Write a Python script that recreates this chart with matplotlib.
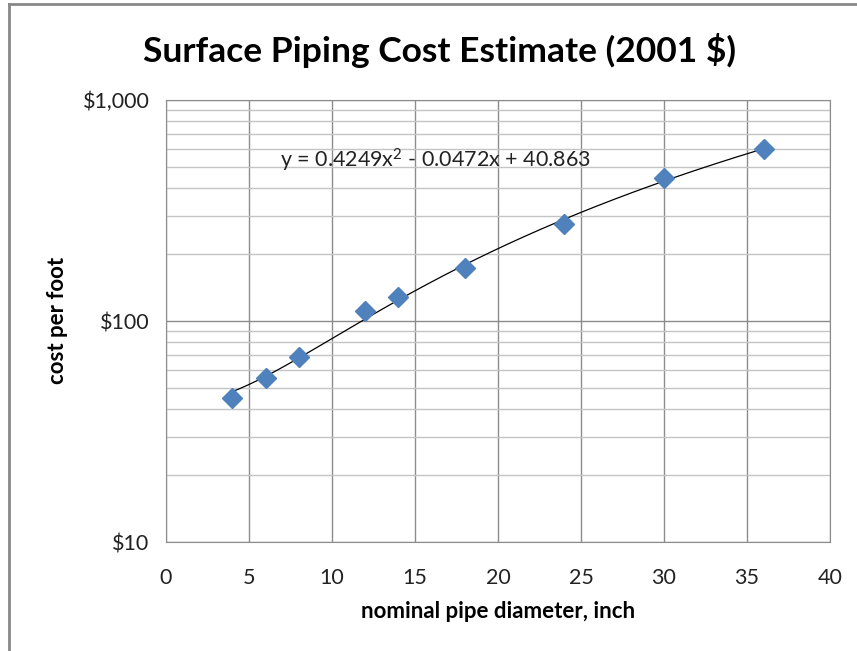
import matplotlib.pyplot as plt
import matplotlib.ticker as mticker
import numpy as np

# data
diameter = [4, 6, 8, 12, 14, 18, 24, 30, 36]
cost = [44.7, 55.1, 68.6, 111, 128.5, 174, 276, 442, 599]
equation = 'y = 0.4249x$^2$ - 0.0472x + 40.863'

plt.rcParams['font.family'] = ['Lato', 'DejaVu Sans']
plt.rcParams['mathtext.default'] = 'regular'

fig = plt.figure(figsize=(8.57, 6.51), dpi=100)
ax = fig.add_axes([0.1937, 0.1674, 0.7748, 0.679])

# quadratic trendline fitted to the points
coef = np.polyfit(diameter, cost, 2)
xs = np.linspace(min(diameter), max(diameter), 200)
ax.plot(xs, np.polyval(coef, xs), color='black', linewidth=0.9, zorder=3)

ax.plot(diameter, cost, linestyle='none', marker='D', markersize=10,
        color='#4F81BD', markeredgecolor='#4F81BD', zorder=4)

ax.set_yscale('log')
ax.set_ylim(10, 1000)
ax.set_xlim(0, 40)
ax.set_xticks(range(0, 41, 5))
ax.yaxis.set_major_formatter(mticker.FuncFormatter(lambda v, p: '${:,.0f}'.format(v)))
ax.yaxis.set_minor_formatter(mticker.NullFormatter())
ax.yaxis.set_minor_locator(mticker.LogLocator(base=10, subs=range(2, 10)))

ax.grid(True, which='major', color='#8c8c8c', linewidth=1)
ax.grid(True, which='minor', axis='y', color='#c4c4c4', linewidth=1)
ax.set_axisbelow(True)
for s in ax.spines.values():
    s.set_color('#8c8c8c')
ax.tick_params(which='both', length=0, labelsize=15.5, colors='#222222')
ax.tick_params(axis='x', pad=19)
ax.tick_params(axis='y', pad=12)

ax.text(0.172, 0.864, equation, transform=ax.transAxes, fontsize=15.5,
        va='center', ha='left', color='#222222')

fig.text(0.513, 1 - 50 / 651, 'Surface Piping Cost Estimate (2001 $)', fontsize=25.5,
         fontweight='bold', ha='center', va='center')
ax.set_xlabel('nominal pipe diameter, inch', fontsize=16, fontweight='bold', labelpad=9)
fig.text(57 / 857, 1 - 320 / 651, 'cost per foot', fontsize=16, fontweight='bold',
         rotation=90, ha='center', va='center')

# chart area border (top and left edges visible)
fig.add_artist(plt.Line2D([9 / 857, 1], [1 - 4 / 651, 1 - 4 / 651], transform=fig.transFigure,
                          color='#888888', linewidth=2))
fig.add_artist(plt.Line2D([9 / 857, 9 / 857], [0, 1 - 4 / 651], transform=fig.transFigure,
                          color='#888888', linewidth=2))

plt.savefig('out.png', dpi=100)
